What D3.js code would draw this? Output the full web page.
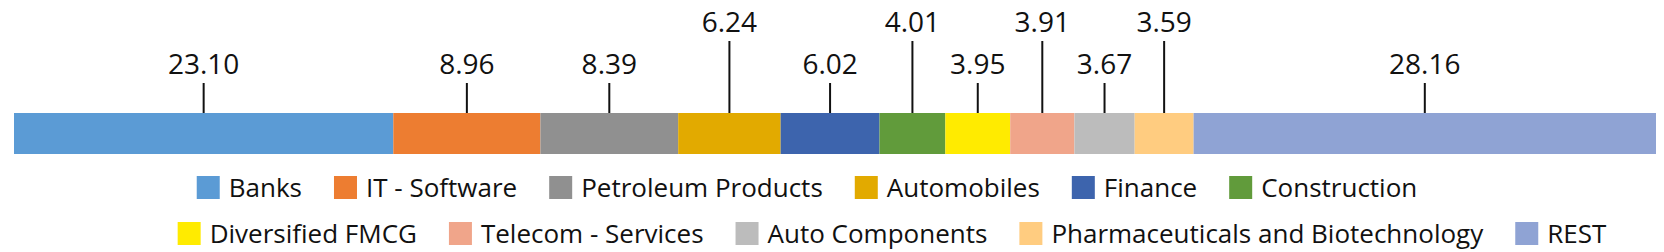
<!DOCTYPE html>
<html>
<head>
<meta charset="utf-8">
<script src="https://cdn.jsdelivr.net/npm/d3@7"></script>
<style>
  body { margin: 0; background: #fff; }
  svg { display: block; font-family: "Open Sans", "Noto Sans", sans-serif; }
</style>
</head>
<body>
<div id="chart"></div>
<script>
// sector weights (%)
var sectors = ["Banks", "IT - Software", "Petroleum Products", "Automobiles", "Finance", "Construction",
               "Diversified FMCG", "Telecom - Services", "Auto Components", "Pharmaceuticals and Biotechnology", "REST"];
var weights = [23.10, 8.96, 8.39, 6.24, 6.02, 4.01, 3.95, 3.91, 3.67, 3.59, 28.16];
var sectorColors = ["#5b9bd5", "#ed7d31", "#909090", "#e2aa00", "#3d64ad", "#619b3b",
                    "#ffeb00", "#f0a58a", "#bcbcbc", "#ffcc80", "#8fa3d4"];
// legend rows as laid out in the picture
var legendRows = [[0, 1, 2, 3, 4, 5], [6, 7, 8, 9, 10]];

var width = 1664, height = 252;
var margin = {left: 14, right: 8};
var barTop = 113, barH = 41;

var svg = d3.select("#chart").append("svg")
    .attr("width", width)
    .attr("height", height);

var x = d3.scaleLinear()
    .domain([0, d3.sum(weights)])
    .range([margin.left, width - margin.right]);

// cumulative stacking
var segs = [], acc = 0;
weights.forEach(function(v, i) {
    segs.push({name: sectors[i], value: v, x0: acc, x1: acc + v, color: sectorColors[i]});
    acc += v;
});

// small segments alternate their labels between upper and lower row, starting high
var flip = true;
segs.forEach(function(d) {
    if (d.value < 7) { d.upper = flip; flip = !flip; }
    else { d.upper = false; }
});

svg.append("g").selectAll("rect")
    .data(segs)
    .enter().append("rect")
    .attr("x", function(d) { return x(d.x0); })
    .attr("y", barTop)
    .attr("width", function(d) { return x(d.x1) - x(d.x0); })
    .attr("height", barH)
    .attr("fill", function(d) { return d.color; });

var lab = svg.append("g").selectAll("g")
    .data(segs)
    .enter().append("g")
    .attr("transform", function(d) { return "translate(" + ((x(d.x0) + x(d.x1)) / 2) + ",0)"; });

lab.append("line")
    .attr("y1", function(d) { return d.upper ? 41 : 83; })
    .attr("y2", barTop)
    .attr("stroke", "#111")
    .attr("stroke-width", 2);

lab.append("text")
    .attr("y", function(d) { return d.upper ? 32 : 74; })
    .attr("text-anchor", "middle")
    .attr("font-size", "28px")
    .attr("fill", "#111")
    .text(function(d) { return d3.format(".2f")(d.value); });

// legend
var rowY = [187.5, 233.5], rowCenter = [807, 892];
var sw = 23, txtGap = 9, itemGap = 32;

legendRows.forEach(function(row, r) {
    var g = svg.append("g");
    var items = g.selectAll("g")
        .data(row)
        .enter().append("g");
    items.append("rect")
        .attr("width", sw)
        .attr("height", sw)
        .attr("y", rowY[r] - sw / 2)
        .attr("fill", function(i) { return sectorColors[i]; });
    items.append("text")
        .attr("x", sw + txtGap)
        .attr("y", rowY[r] + 9.5)
        .attr("font-size", "26px")
        .attr("fill", "#111")
        .text(function(i) { return sectors[i]; });
    var pos = 0;
    items.each(function() {
        var w = sw + txtGap + this.querySelector("text").getComputedTextLength();
        d3.select(this).attr("transform", "translate(" + pos + ",0)");
        pos += w + itemGap;
    });
    var total = pos - itemGap;
    g.attr("transform", "translate(" + (rowCenter[r] - total / 2) + ",0)");
});
</script>
</body>
</html>
